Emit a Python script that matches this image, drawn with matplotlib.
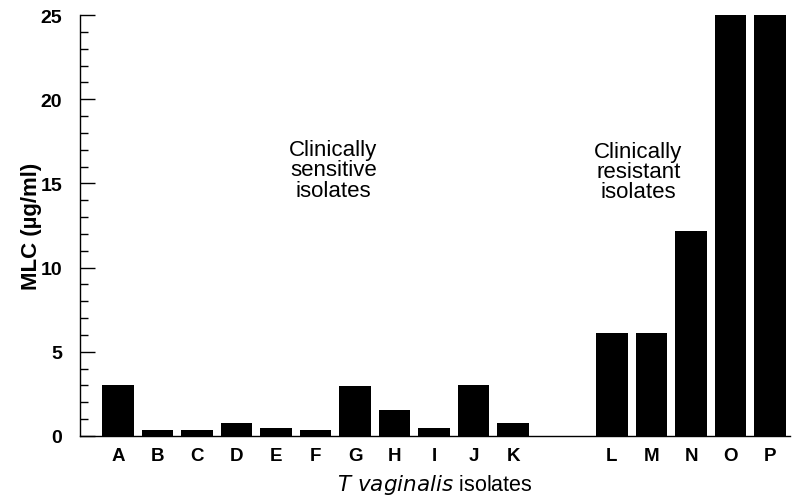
import matplotlib.pyplot as plt
from matplotlib.ticker import MultipleLocator

plt.rcParams["font.family"] = ["Liberation Sans", "DejaVu Sans"]

# Data
sensitive_labels = ["A", "B", "C", "D", "E", "F", "G", "H", "I", "J", "K"]
sensitive_mlc = [3.0, 0.37, 0.37, 0.78, 0.45, 0.37, 2.95, 1.56, 0.45, 3.0, 0.8]
resistant_labels = ["L", "M", "N", "O", "P"]
resistant_mlc = [6.1, 6.1, 12.2, 25.0, 25.0]

# x positions: one group, a gap, then the second group
sens_x = list(range(len(sensitive_labels)))
res_x = [12.5 + i for i in range(len(resistant_labels))]

fig = plt.figure(figsize=(7.93, 5.02), dpi=100)
ax = fig.add_axes([0.101, 0.1295, 0.895, 0.8385])

ax.bar(sens_x, sensitive_mlc, width=0.8, color="black")
ax.bar(res_x, resistant_mlc, width=0.8, color="black")

ax.set_xlim(-0.96, 17.0)
ax.set_ylim(0, 25)

ax.set_xticks(sens_x + res_x)
ax.set_xticklabels(sensitive_labels + resistant_labels, fontsize=13.5, fontweight="bold")
ax.tick_params(axis="x", length=0, pad=8)

ax.yaxis.set_major_locator(MultipleLocator(5))
ax.yaxis.set_minor_locator(MultipleLocator(1))
ax.tick_params(axis="y", which="major", direction="in", length=11, width=1, pad=13)
ax.tick_params(axis="y", which="minor", direction="in", length=6, width=1)
for lbl in ax.get_yticklabels():
    lbl.set_fontsize(14)
    lbl.set_fontweight("bold")

for side in ["top", "right"]:
    ax.spines[side].set_visible(False)
for side in ["left", "bottom"]:
    ax.spines[side].set_linewidth(1.0)

ax.set_ylabel("MLC (µg/ml)", fontsize=16, fontweight="bold")
ax.yaxis.set_label_coords(-0.0535, 0.5)
ax.set_xlabel(r"$\it{T\ vaginalis}$ isolates", fontsize=15.5, labelpad=6)

ax.text(5.45, 15.8, "Clinically\nsensitive\nisolates", ha="center", va="center",
        fontsize=16, linespacing=0.95)
ax.text(13.17, 15.7, "Clinically\nresistant\nisolates", ha="center", va="center",
        fontsize=16, linespacing=0.95)

fig.savefig("out.png", dpi=100, facecolor="white")
